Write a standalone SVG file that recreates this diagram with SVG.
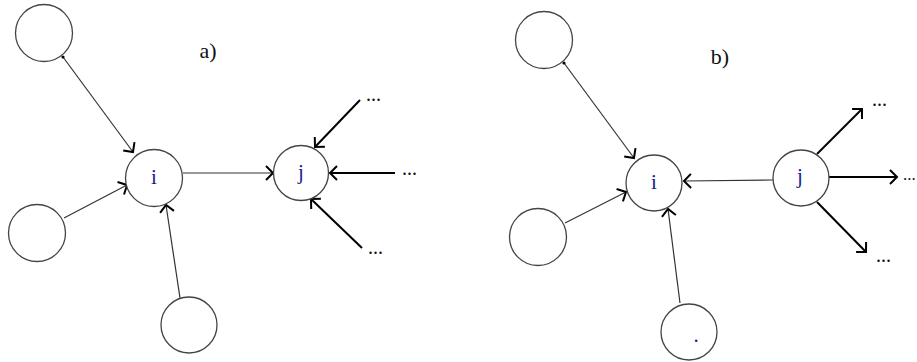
<svg xmlns="http://www.w3.org/2000/svg" width="917" height="362" viewBox="0 0 917 362">
<style>
.node{fill:#fff;stroke:#444;stroke-width:1.3}
.lbl{font-family:"Liberation Serif",serif;font-size:21px;fill:#1a1a8e;text-anchor:middle}
.cap{font-family:"Liberation Serif",serif;font-size:22px;fill:#111;text-anchor:middle}
.dots{font-family:"Liberation Serif",serif;font-size:20px;fill:#111}
.e{stroke:#333;stroke-width:1.2;fill:none}
.eb{stroke:#000;stroke-width:2;fill:none}
</style>
<defs>
<marker id="ah" markerUnits="userSpaceOnUse" orient="auto" markerWidth="20" markerHeight="20" refX="0" refY="0" viewBox="-10 -10 20 20" overflow="visible">
<path d="M-7,-7 L0,0 L-7,7" fill="none" stroke="#000" stroke-width="2"/>
</marker>
</defs>
<rect width="917" height="362" fill="#fff"/>
<g id="connectors">
<line class="e" x1="63" y1="57" x2="133" y2="152" marker-end="url(#ah)"/>
<circle cx="63" cy="57" r="1.6" fill="#000"/>
<line class="e" x1="64" y1="218" x2="127" y2="185" marker-end="url(#ah)"/>
<line class="e" x1="180" y1="298" x2="166" y2="205" marker-end="url(#ah)"/>
<line class="e" x1="183" y1="173" x2="273" y2="173" marker-end="url(#ah)"/>
<line class="eb" x1="360" y1="100" x2="315" y2="147" marker-end="url(#ah)"/>
<line class="eb" x1="395" y1="173" x2="330" y2="173" marker-end="url(#ah)"/>
<line class="eb" x1="362" y1="248" x2="311" y2="199" marker-end="url(#ah)"/>
<line class="e" x1="564" y1="63" x2="634" y2="158" marker-end="url(#ah)"/>
<circle cx="564" cy="63" r="1.6" fill="#000"/>
<line class="e" x1="565" y1="223" x2="626" y2="192" marker-end="url(#ah)"/>
<line class="e" x1="680" y1="303" x2="668" y2="209" marker-end="url(#ah)"/>
<line class="e" x1="773" y1="180" x2="684" y2="181" marker-end="url(#ah)"/>
<line class="eb" x1="817" y1="154" x2="862" y2="109" marker-end="url(#ah)"/>
<line class="eb" x1="829" y1="177" x2="897" y2="177" marker-end="url(#ah)"/>
<line class="eb" x1="817" y1="202" x2="866" y2="252" marker-end="url(#ah)"/>
</g>
<g id="a-n1"><circle class="node" cx="44" cy="33" r="28.5"/></g>
<g id="a-n2"><circle class="node" cx="37" cy="233" r="28.5"/></g>
<g id="a-n3"><circle class="node" cx="189" cy="325" r="28"/></g>
<g id="a-i"><circle class="node" cx="154" cy="178" r="28.5"/><text class="lbl" x="154" y="184">i</text></g>
<g id="a-j"><circle class="node" cx="301" cy="173" r="27.5"/><text class="lbl" x="301" y="179">j</text></g>
<g id="b-n1"><circle class="node" cx="544" cy="40" r="28.5"/></g>
<g id="b-n2"><circle class="node" cx="538" cy="237" r="28.5"/></g>
<g id="b-n3"><circle class="node" cx="689" cy="332" r="28"/><text class="lbl" x="696" y="342">.</text></g>
<g id="b-i"><circle class="node" cx="654" cy="183" r="28"/><text class="lbl" x="654" y="189">i</text></g>
<g id="b-j"><circle class="node" cx="801" cy="178" r="28"/><text class="lbl" x="800" y="183">j</text></g>
<g id="labels">
<text class="cap" x="208" y="58">a)</text>
<text class="cap" x="720" y="64">b)</text>
<text class="dots" x="366" y="101">...</text>
<text class="dots" x="402" y="175">...</text>
<text class="dots" x="368" y="254">...</text>
<text class="dots" x="872" y="106">...</text>
<text class="dots" x="903" y="180" style="font-size:17px">...</text>
<text class="dots" x="876" y="262">...</text>
</g>
</svg>
